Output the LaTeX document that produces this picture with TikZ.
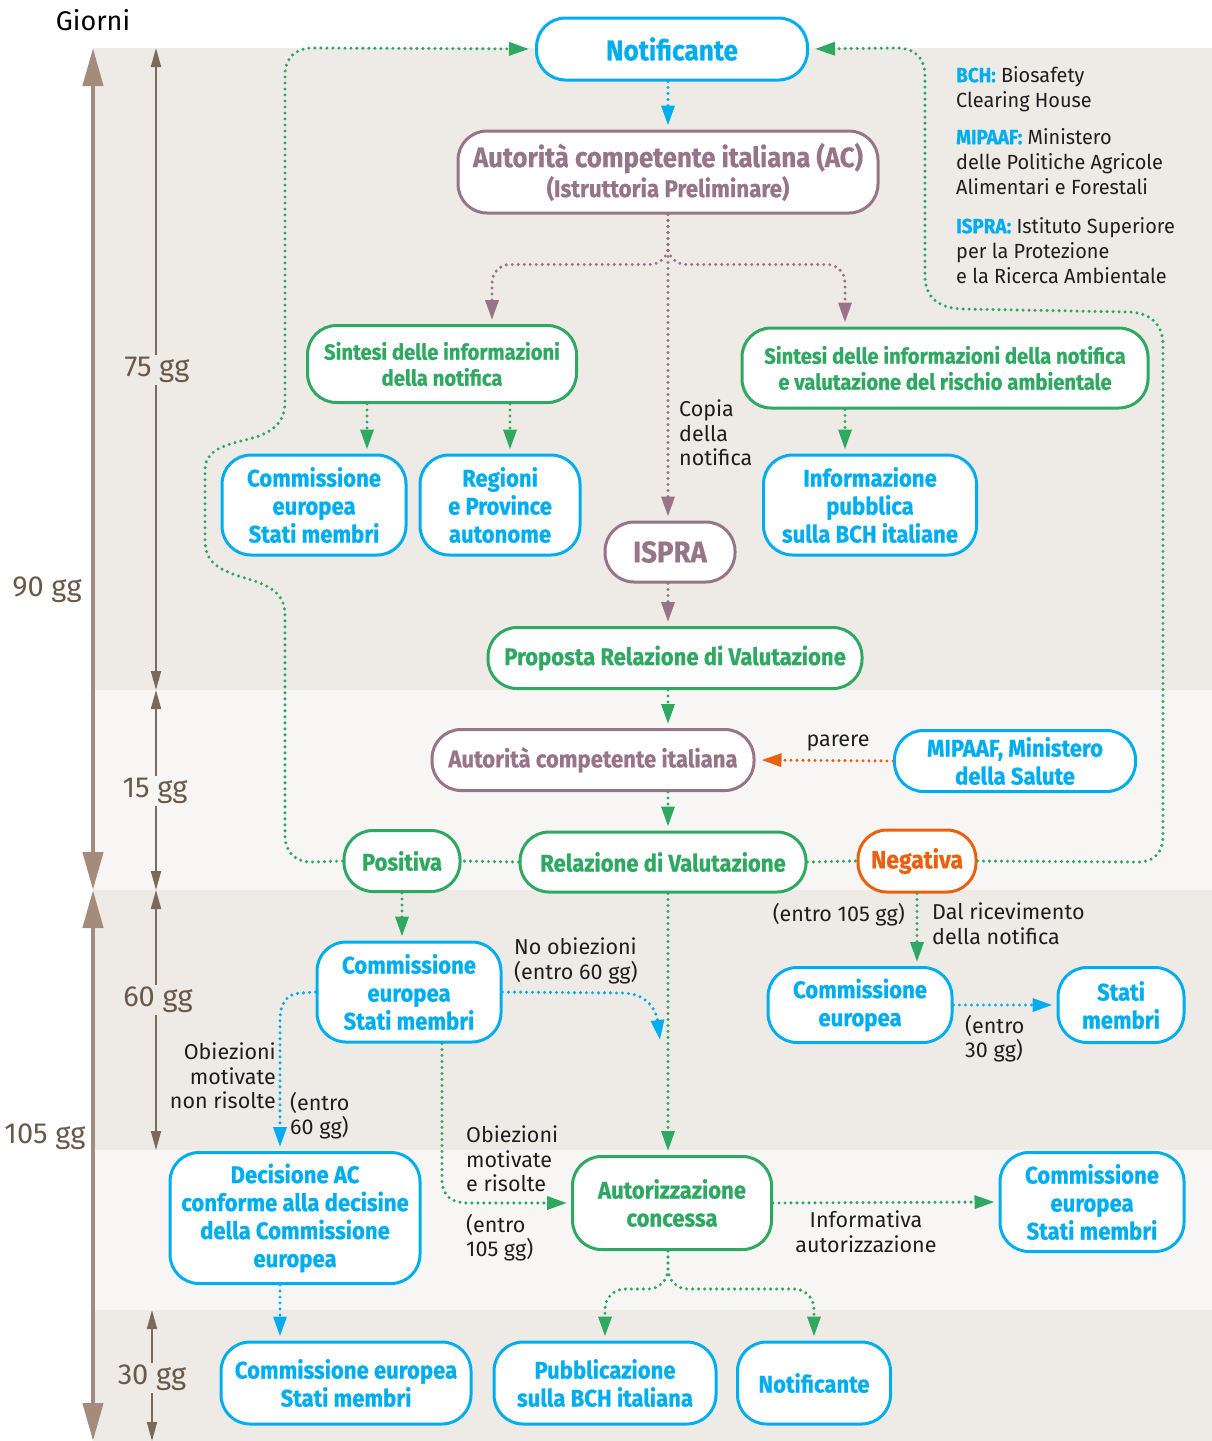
\documentclass[tikz,border=0pt]{standalone}
\usepackage{fontspec}
\setmainfont{Fira Sans}
\newfontfamily\bx[FakeStretch=0.92, BoldFeatures={FakeBold=0.6}]{Fira Sans}
\newfontfamily\lb[FakeStretch=1.0]{Fira Sans}
\newfontfamily\legfnt[FakeStretch=0.97]{Fira Sans}
\usetikzlibrary{arrows.meta,calc}
\definecolor{cy}{HTML}{00AEEF}
\definecolor{gr}{HTML}{2FA862}
\definecolor{mv}{HTML}{977488}
\definecolor{orr}{HTML}{E9600E}
\definecolor{bandA}{HTML}{EEEBE6}
\definecolor{bandB}{HTML}{F7F6F4}
\definecolor{brA}{HTML}{A48B7C}
\definecolor{brB}{HTML}{7B6A59}
\definecolor{brT}{HTML}{6A5949}
\definecolor{ink}{HTML}{1E1E1E}
\tikzset{
  box/.style={draw, line width=3pt, rounded corners=29pt, fill=white, align=center, inner sep=0pt,
    font=\bx\bfseries\fontsize{24}{28}\selectfont},
  cbox/.style={box, draw=cy, text=cy},
  gbox/.style={box, draw=gr, text=gr},
  mbox/.style={box, draw=mv, text=mv},
  obox/.style={box, draw=orr, text=orr},
  dotl/.style={line width=3.4pt, line cap=round, dash pattern=on 0pt off 6pt},
  cdot/.style={dotl, draw=cy},
  gdot/.style={dotl, draw=gr},
  mdot/.style={dotl, draw=mv},
  odot/.style={dotl, draw=orr},
  tip/.style={-{Triangle[length=20pt,width=13pt]}, shorten >=4pt},
  lab/.style={font=\lb\fontsize{21.5}{24.5}\selectfont, inner sep=0pt, text=ink},
  axl/.style={font=\fontsize{29}{32}\selectfont, inner sep=2pt, text=brT},
  leg/.style={font=\legfnt\fontsize{20.5}{25}\selectfont, inner sep=0pt, text=ink, align=left, anchor=north west},
  bigarr/.style={brA, line width=4.5pt, {Triangle[length=38pt,width=20pt]}-{Triangle[length=38pt,width=20pt]}},
  smallarr/.style={brB, line width=2pt, {Triangle[length=19pt,width=10pt]}-{Triangle[length=19pt,width=10pt]}}
}
\begin{document}
\begin{tikzpicture}[x=1pt,y=-1pt]
\useasboundingbox (0,0) rectangle (1212,1441);
\fill[white] (0,0) rectangle (1212,1441);
% bands
\fill[bandA] (93,48) rectangle (1212,690);
\fill[bandB] (93,690) rectangle (1212,890);
\fill[bandA] (93,890) rectangle (1212,1150);
\fill[bandB] (93,1150) rectangle (1212,1310);
\fill[bandA] (93,1310) rectangle (1212,1441);

% time axis
\node[font=\fontsize{27}{30}\selectfont, text=black, inner sep=0pt] (giorni) at (93,20) {Giorni};
\draw[bigarr] (93,48) -- (93,890);
\draw[bigarr] (93,890) -- (93,1441);
\draw[smallarr] (156,48) -- (156,690);
\draw[smallarr] (156,690) -- (156,890);
\draw[smallarr] (156,890) -- (156,1150);
\draw[smallarr] (152,1310) -- (152,1441);
\node[axl] (d90) at (47,590) {90 gg};
\node[axl] (d105) at (45,1137) {105 gg};
\node[axl, fill=bandA] (d75) at (157,370) {75 gg};
\node[axl, fill=bandB] (d15) at (155,791) {15 gg};
\node[axl, fill=bandA] (d60) at (158,1000) {60 gg};
\node[axl, fill=bandA] (d30) at (152,1378) {30 gg};

% legend
\node[leg] (l1) at (956,66) {{\bx\bfseries\color{cy}BCH:} Biosafety\\Clearing House};
\node[leg] (l2) at (956,128) {{\bx\bfseries\color{cy}MIPAAF:} Ministero\\delle Politiche Agricole\\Alimentari e Forestali};
\node[leg] (l3) at (956,217) {{\bx\bfseries\color{cy}ISPRA:} Istituto Superiore\\per la Protezione\\e la Ricerca Ambientale};

% nodes
\coordinate (ax) at (668,0);
\node[cbox, minimum width=271pt, minimum height=62pt, font=\bx\bfseries\fontsize{28.5}{30}\selectfont] (Ntop) at (672,49) {Notificante};
\node[mbox, minimum width=420pt, minimum height=82pt, font=\bx\bfseries\fontsize{24.3}{30}\selectfont] (AC) at (668,172) {{\fontsize{28}{30}\selectfont Autorità competente italiana (AC)}\\(Istruttoria Preliminare)};
\node[gbox, minimum width=269pt, minimum height=77pt, font=\bx\bfseries\fontsize{22}{26}\selectfont] (Sl) at (442,364) {Sintesi delle informazioni\\della notifica};
\node[gbox, minimum width=406pt, minimum height=80pt, font=\bx\bfseries\fontsize{22}{26}\selectfont] (Sr) at (945,368) {Sintesi delle informazioni della notifica\\e valutazione del rischio ambientale};
\node[cbox, minimum width=184pt, minimum height=100pt] (CEt) at (314,505) {Commissione\\europea\\Stati membri};
\node[cbox, minimum width=160pt, minimum height=100pt] (Reg) at (500,505) {Regioni\\e Province\\autonome};
\node[mbox, minimum width=130pt, minimum height=60pt, font=\bx\bfseries\fontsize{30}{30}\selectfont] (ISPRA) at (670,552) {ISPRA};
\node[cbox, minimum width=213pt, minimum height=100pt] (Info) at (870,505) {Informazione\\pubblica\\sulla BCH italiane};
\node[gbox, minimum width=374pt, minimum height=61pt] (Prop) at (675,658) {Proposta Relazione di Valutazione};
\node[mbox, minimum width=322pt, minimum height=61pt] (AC2) at (593,760) {Autorità competente italiana};
\node[cbox, minimum width=241pt, minimum height=61pt] (MIP) at (1015,761) {MIPAAF, Ministero\\della Salute};
\node[gbox, minimum width=116pt, minimum height=61pt] (Pos) at (402,861) {Positiva};
\node[gbox, minimum width=286pt, minimum height=60pt] (Rel) at (663,862) {Relazione di Valutazione};
\node[obox, minimum width=118pt, minimum height=62pt, font=\bx\bfseries\fontsize{25}{28}\selectfont] (Neg) at (917,861) {Negativa};
\node[cbox, minimum width=184pt, minimum height=100pt] (CEm) at (409,992) {Commissione\\europea\\Stati membri};
\node[cbox, minimum width=184pt, minimum height=75pt] (CEr) at (860,1005) {Commissione\\europea};
\node[cbox, minimum width=126pt, minimum height=75pt] (Stati) at (1121,1005) {Stati\\membri};
\node[cbox, minimum width=250pt, minimum height=131pt] (Dec) at (295,1218) {Decisione AC\\conforme alla decisine\\della Commissione\\europea};
\node[gbox, minimum width=199pt, minimum height=93pt] (Aut) at (672,1203) {Autorizzazione\\concessa};
\node[cbox, minimum width=184pt, minimum height=99pt] (CEb2) at (1092,1202) {Commissione\\europea\\Stati membri};
\node[cbox, minimum width=250pt, minimum height=82pt] (CEb) at (346,1383) {Commissione europea\\Stati membri};
\node[cbox, minimum width=222pt, minimum height=82pt] (Pub) at (605,1383) {Pubblicazione\\sulla BCH italiana};
\node[cbox, minimum width=153pt, minimum height=82pt] (NotB) at (814,1383) {Notificante};

% connectors
\draw[cdot, tip] (Ntop.south -| AC.north) -- (AC.north);
\coordinate (sla) at ([xshift=50pt]Sl.north);
\coordinate (sra) at ([xshift=-100pt]Sr.north);
\draw[mdot, tip, rounded corners=18pt] (AC.south) -- ++(0,50) -| (sla);
\draw[mdot, tip, rounded corners=18pt] (AC.south) -- ++(0,50) -| (sra);
\draw[mdot, tip] (AC.south) -- (AC.south |- ISPRA.north);
\coordinate (s1) at ([xshift=-75pt]Sl.south);
\coordinate (s2) at ([xshift=68pt]Sl.south);
\coordinate (s3) at ([xshift=-100pt]Sr.south);
\draw[gdot, tip] (s1) -- (s1 |- CEt.north);
\draw[gdot, tip] (s2) -- (s2 |- Reg.north);
\draw[gdot, tip] (s3) -- (s3 |- Info.north);
\draw[mdot, tip] (ISPRA.south -| ax) -- (Prop.north -| ax);
\draw[gdot, tip] (Prop.south -| ax) -- (AC2.north -| ax);
\draw[odot, tip, shorten >=6pt] (MIP.west) -- (AC2.east);
\draw[gdot, tip] (AC2.south -| ax) -- (Rel.north -| ax);
\draw[gdot] (Rel.west) -- (Pos.east);
\draw[gdot] (Rel.east) -- (Neg.west);
% Positiva loop back to Notificante
\draw[gdot, tip, shorten >=6pt] (Pos.west) -- (312,862) .. controls (295,862) and (285,852) .. (285,835)
  -- (285,615) .. controls (285,592) and (268,585) .. (245,578) .. controls (218,570) and (205,562) .. (205,540)
  -- (205,470) .. controls (205,452) and (220,446) .. (245,440) .. controls (270,434) and (285,425) .. (285,402)
  -- (285,75) .. controls (285,58) and (296,48) .. (312,48) -- (Ntop.west);
% Negativa loop back to Notificante
\draw[gdot, tip, shorten >=6pt] (Neg.east) -- (1138,862) .. controls (1155,862) and (1163,852) .. (1163,835)
  -- (1163,345) .. controls (1163,324) and (1150,313) .. (1130,312) -- (962,309) .. controls (937,308) and (925,296) .. (925,276)
  -- (925,76) .. controls (925,58) and (915,48) .. (896,48) -- (Ntop.east);
\draw[gdot, tip] (Pos.south) -- (Pos.south |- CEm.north);
\draw[gdot, tip] (Rel.south -| ax) -- (Aut.north -| ax);
\coordinate (ng) at ([xshift=57pt]CEr.north);
\draw[gdot, tip] (Neg.south -| ng) -- (ng);
\draw[cdot, tip] (CEr.east) -- (Stati.west);
\coordinate (noend) at (660,1040);
\draw[cdot, tip, shorten >=0pt] (CEm.east) -- (622,993) .. controls (645,993) and (656,1008) .. (noend);
\coordinate (dn) at ([xshift=-15pt]Dec.north);
\draw[cdot, tip] (CEm.west) -- (302,993) .. controls (287,993) and (280,1003) .. (280,1020) -- (dn);
\draw[gdot, tip] ([xshift=33pt]CEm.south) -- (442,1180) .. controls (442,1196) and (452,1203) .. (468,1203) -- (Aut.west);
\coordinate (ds) at ([xshift=-15pt]Dec.south);
\draw[cdot, tip] (ds) -- (ds |- CEb.north);
\draw[gdot, tip, rounded corners=20pt] (Aut.south -| ax) -- ++(0,38) -| (Pub.north);
\draw[gdot, tip, rounded corners=20pt] (Aut.south -| ax) -- ++(0,38) -| (NotB.north);
\draw[gdot, tip] (Aut.east) -- (CEb2.west);

% labels
\node[lab, align=left, anchor=north west] (tcopia) at (679,400) {Copia\\della\\notifica};
\node[lab, anchor=center] (tparere) at (838,743) {parere};
\node[lab, anchor=north east] (t105a) at (905,903) {(entro 105 gg)};
\node[lab, align=left, anchor=north west] (tdal) at (932,903) {Dal ricevimento\\della notifica};
\node[lab, align=left, anchor=north west] (t30) at (965,1015) {(entro\\30 gg)};
\node[lab, align=left, anchor=north west] (tno) at (514,938) {No obiezioni\\(entro 60 gg)};
\node[lab, align=right, anchor=north east] (tobn) at (276,1043) {Obiezioni\\motivate\\non risolte};
\node[lab, align=left, anchor=north west] (t60) at (290,1092) {(entro\\60 gg)};
\node[lab, align=left, anchor=north west] (tobr) at (466,1126) {Obiezioni\\motivate\\e risolte};
\node[lab, align=left, anchor=north west] (t105b) at (466,1214) {(entro\\105 gg)};
\node[lab, align=center, anchor=north] (tinf) at (866,1211) {Informativa\\autorizzazione};
\end{tikzpicture}
\end{document}
